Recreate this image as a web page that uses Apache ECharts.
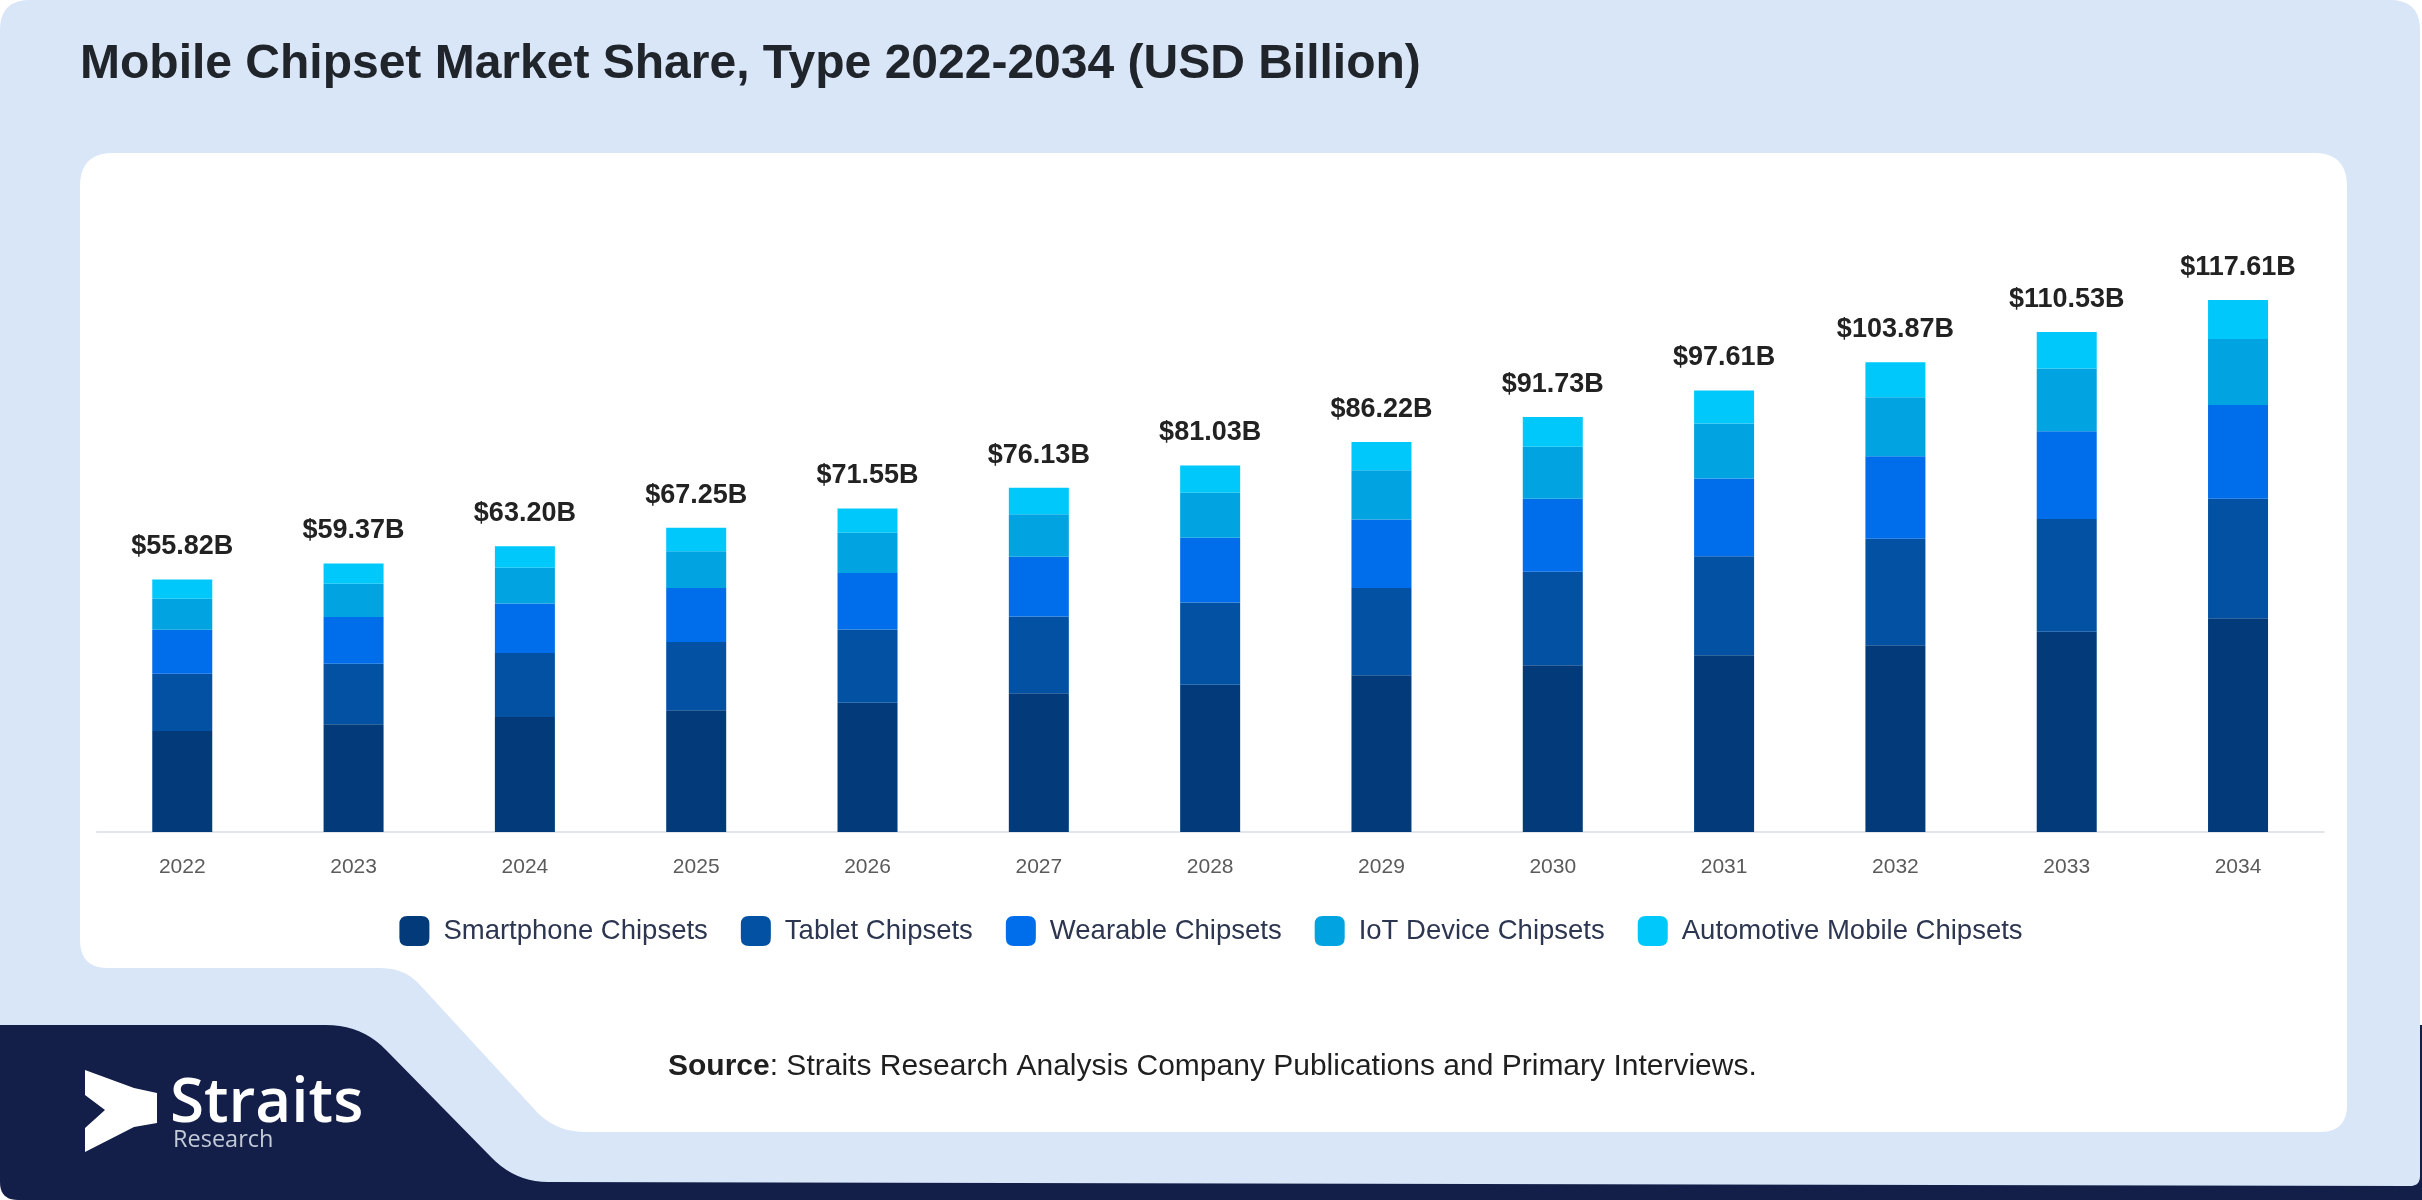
<!DOCTYPE html>
<html>
<head>
<meta charset="utf-8">
<script src="https://cdn.jsdelivr.net/npm/echarts@6/dist/echarts.min.js"></script>
<style>
  html, body { margin: 0; padding: 0; background: #ffffff; }
  #chart { width: 2422px; height: 1200px; }
</style>
</head>
<body>
<div id="chart"></div>
<script>
const categories = ['2022','2023','2024','2025','2026','2027','2028','2029','2030','2031','2032','2033','2034'];
const totals = [55.82, 59.37, 63.20, 67.25, 71.55, 76.13, 81.03, 86.22, 91.73, 97.61, 103.87, 110.53, 117.61];
const seriesNames = ['Smartphone Chipsets', 'Tablet Chipsets', 'Wearable Chipsets', 'IoT Device Chipsets', 'Automotive Mobile Chipsets'];
const smartphone = [22.32, 23.82, 25.45, 26.90, 28.60, 30.68, 32.53, 34.67, 36.88, 39.06, 41.27, 44.28, 47.26];
const tablet     = [12.65, 13.40, 14.15, 15.10, 16.20, 16.95, 18.20, 19.30, 20.65, 21.90, 23.55, 24.90, 26.40];
const wearable   = [9.75, 10.30, 10.90, 11.95, 12.45, 13.25, 14.35, 15.10, 16.15, 17.20, 18.25, 19.45, 20.75];
const iot        = [6.85, 7.35, 7.95, 8.10, 8.90, 9.40, 9.95, 10.90, 11.50, 12.15, 13.05, 13.85, 14.60];
const automotive = [4.25, 4.50, 4.75, 5.20, 5.40, 5.85, 6.00, 6.25, 6.55, 7.30, 7.75, 8.05, 8.60];

const colors = ['#033b7a', '#0251a2', '#006eea', '#01a4e1', '#00c8fa'];
const seriesData = [smartphone, tablet, wearable, iot, automotive];

// decorative shape outline helper: commands of ['L',x,y] or ['Q',cx,cy,x,y]
function outline(cmds) {
  const pts = [];
  let cur = null;
  cmds.forEach(c => {
    if (c[0] === 'L') { cur = [c[1], c[2]]; pts.push(cur); }
    else if (c[0] === 'Q') {
      const p0 = cur, cx = c[1], cy = c[2], x = c[3], y = c[4];
      for (let k = 1; k <= 10; k++) {
        const t = k / 10, u = 1 - t;
        pts.push([u*u*p0[0] + 2*u*t*cx + t*t*x, u*u*p0[1] + 2*u*t*cy + t*t*y]);
      }
      cur = [x, y];
    }
  });
  return pts;
}

const navyShape = outline([['L',0,1025],['L',2422,1025],['L',2422,1200],['L',18,1200],['Q',0,1200,0,1182]]);
const blueShape = outline([['L',0,30],['Q',0,0,30,0],['L',2390,0],['Q',2420,0,2420,30],['L',2420,1176],['Q',2420,1186,2410,1186],
  ['L',548,1182],['Q',515,1182,491,1157],['L',386,1050],['Q',362,1025,326,1025],['L',0,1025]]);
const whiteShape = outline([['L',113,153],['L',2314,153],['Q',2347,153,2347,186],['L',2347,1105],['Q',2347,1132,2320,1132],
  ['L',585,1132],['Q',555,1132,535,1110],['L',420,985],['Q',405,968,380,968],['L',108,968],['Q',80,968,80,940],['L',80,186],['Q',80,153,113,153]]);

const chart = echarts.init(document.getElementById('chart'), null, { renderer: 'canvas' });

const series = seriesData.map((d, i) => ({
  name: seriesNames[i],
  type: 'bar',
  stack: 'total',
  barWidth: 60,
  z: 5,
  data: d,
  itemStyle: { color: colors[i] },
  label: i === seriesData.length - 1 ? {
    show: true,
    position: 'top',
    distance: 19,
    formatter: p => '$' + totals[p.dataIndex].toFixed(2) + 'B',
    fontFamily: 'Liberation Sans, Arial, sans-serif',
    fontWeight: 'bold',
    fontSize: 27,
    color: '#222222'
  } : { show: false }
}));

const option = {
  animation: false,
  backgroundColor: '#ffffff',
  textStyle: { fontFamily: 'Liberation Sans, Arial, sans-serif' },
  grid: { left: 96.6, right: 98.3, top: 198.8, bottom: 368, containLabel: false },
  legend: {
    data: seriesNames,
    top: 911,
    left: 'center',
    itemWidth: 30,
    itemHeight: 30,
    itemGap: 33,
    icon: 'path://M8,0 H22 Q30,0 30,8 V22 Q30,30 22,30 H8 Q0,30 0,22 V8 Q0,0 8,0 Z',
    textStyle: { fontSize: 27.5, color: '#2d3650', padding: [0, 0, 0, 9], fontFamily: 'Liberation Sans, Arial, sans-serif' },
    z: 6
  },
  xAxis: {
    type: 'category',
    data: categories,
    z: 5,
    axisLine: { show: true, lineStyle: { color: '#e2e5ea', width: 2 } },
    axisTick: { show: false },
    axisLabel: { fontSize: 21, color: '#5b5b5b', margin: 25, fontFamily: 'Liberation Sans, Arial, sans-serif' }
  },
  yAxis: { type: 'value', min: 0, max: 140, show: false, splitLine: { show: false } },
  graphic: [
    { type: 'polygon', z: -10, silent: true, shape: { points: navyShape }, style: { fill: '#131f48' } },
    { type: 'polygon', z: -9, silent: true, shape: { points: blueShape }, style: { fill: '#d9e6f8' } },
    { type: 'polygon', z: -8, silent: true, shape: { points: whiteShape }, style: { fill: '#ffffff' } },
    { type: 'text', z: 10, silent: true, x: 80, y: 65,
      style: { text: 'Mobile Chipset Market Share, Type 2022-2034 (USD Billion)', fontFamily: 'Liberation Sans, Arial, sans-serif', fontWeight: 'bold', fontSize: 48, fill: '#20242b', verticalAlign: 'middle', align: 'left' } },
    { type: 'text', z: 10, silent: true, x: 668, y: 1067,
      style: { text: '{b|Source}: Straits Research Analysis Company Publications and Primary Interviews.', fontFamily: 'Liberation Sans, Arial, sans-serif', fontSize: 30, fill: '#1f1f1f', verticalAlign: 'middle', align: 'left',
        rich: { b: { fontWeight: 'bold', fontSize: 30, fill: '#1f1f1f', fontFamily: 'Liberation Sans, Arial, sans-serif' } } } },
    { type: 'polygon', z: 10, silent: true,
      shape: { points: [[85,1070],[134,1088],[157,1093],[157,1123],[134,1127],[85,1152],[85,1128],[105,1110],[85,1095]] },
      style: { fill: '#ffffff' } },
    { type: 'text', z: 10, silent: true, x: 170, y: 1073,
      style: { text: 'Straits', fontFamily: 'Open Sans, sans-serif', fontWeight: 600, fontSize: 62, fill: '#ffffff', verticalAlign: 'top', align: 'left' } },
    { type: 'text', z: 10, silent: true, x: 173, y: 1128,
      style: { text: 'Research', fontFamily: 'Open Sans, sans-serif', fontSize: 23.5, fill: '#c3cad8', verticalAlign: 'top', align: 'left' } }
  ],
  series: series
};

chart.setOption(option);
</script>
</body>
</html>
